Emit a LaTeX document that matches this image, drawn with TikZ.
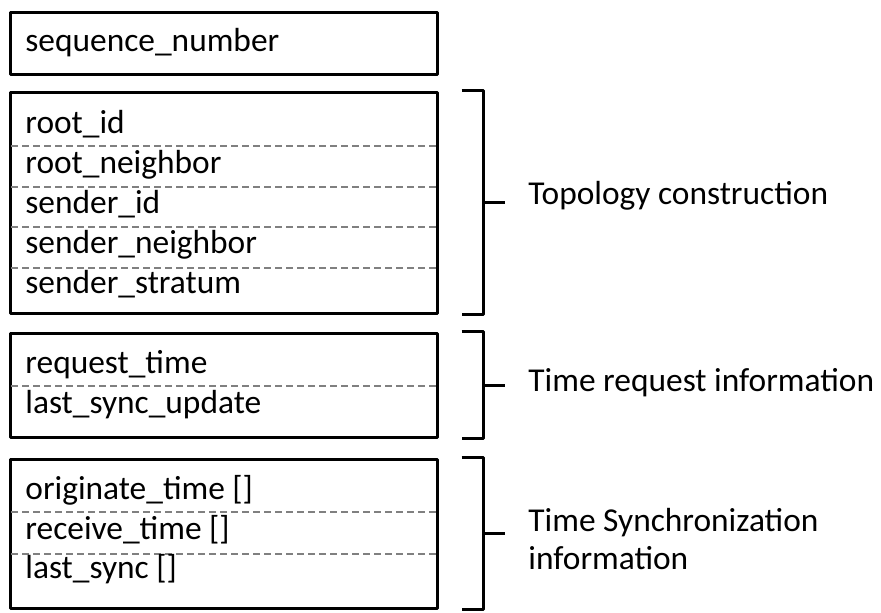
\documentclass[tikz,border=0pt]{standalone}
\usepackage{fontspec}
\setmainfont{Carlito}
\usetikzlibrary{positioning}

\begin{document}
\begin{tikzpicture}[x=0.5pt,y=-0.5pt,line join=round,font=\fontsize{16.7}{19}\selectfont]
	\tikzset{frame/.style={draw, line width=1.5pt, minimum width=213.5pt, inner sep=0pt},
		field/.style={anchor=base west, inner sep=0pt},
		sep/.style={draw=gray, line width=0.85pt, dash pattern=on 3.5pt off 2pt},
		brace/.style={line width=1.5pt},
		note/.style={anchor=base west, inner sep=0pt, align=left}}
	\useasboundingbox (0,0) rectangle (881,612);
	\node[frame, minimum height=31pt] (seq) at (223.5,43) {};
	\node[frame, minimum height=110.5pt] (topo) at (223.5,202.5) {};
	\node[frame, minimum height=52pt] (req) at (223.5,385) {};
	\node[frame, minimum height=74.5pt] (sync) at (223.5,533.5) {};
	\foreach \y in {146,187,227,268,386,512,554}
		\draw[sep] (11,\y) -- (436,\y);
	\node[field] (f0) at (25,51) {sequence\_number};
	\node[field] (f1) at (25,133) {root\_id};
	\node[field] (f2) at (25,173) {root\_neighbor};
	\node[field] (f3) at (25,213) {sender\_id};
	\node[field] (f4) at (25,253) {sender\_neighbor};
	\node[field] (f5) at (25,293) {sender\_stratum};
	\node[field] (f6) at (25,373) {request\_time};
	\node[field] (f7) at (25,413) {last\_sync\_update};
	\node[field] (f8) at (25,499) {originate\_time []};
	\node[field] (f9) at (25,539) {receive\_time []};
	\node[field] (f10) at (25,578) {last\_sync []};
	\foreach \b in {topo,req,sync}{
		\draw[brace] ([xshift=11.5pt]\b.north east) -| ([xshift=22.5pt]\b.east) |- ([xshift=11.5pt]\b.south east);
		\draw[brace] ([xshift=22.5pt]\b.east) -- ++(10.5pt,0);
	}
	\node[note] (topolabel) at (528,204) {Topology construction};
	\node[note] (reqlabel) at (528,391) {Time request information};
	\node[note] (synclabel) at (528,569) {Time Synchronization\\information};
\end{tikzpicture}
\end{document}
